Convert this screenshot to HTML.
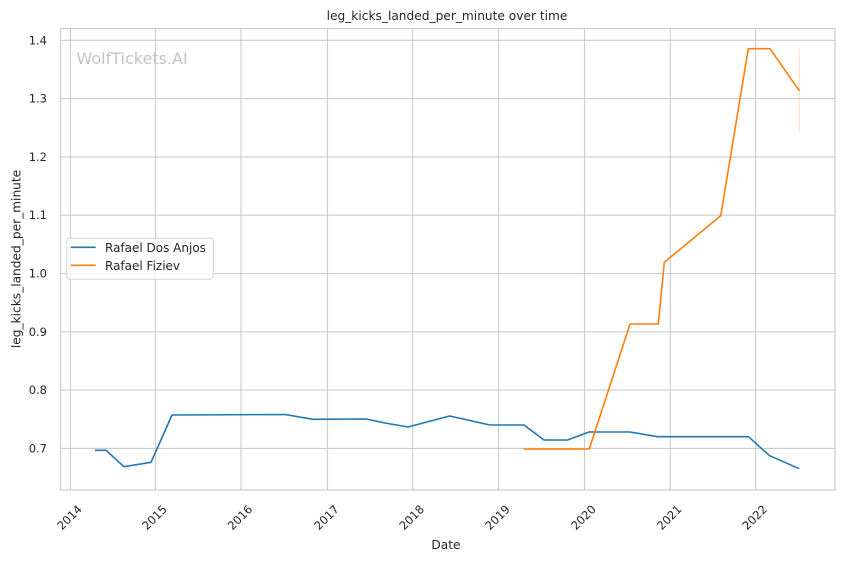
<!DOCTYPE html>
<html>
<head>
<meta charset="utf-8">
<style>
  html, body { margin:0; padding:0; background:#ffffff; }
  body { width:844px; height:561px; overflow:hidden; }
  svg { display:block; font-family:"DejaVu Sans","Liberation Sans",sans-serif; }
</style>
</head>
<body>
<svg width="844" height="561" viewBox="0 0 844 561" xmlns="http://www.w3.org/2000/svg">
  <rect x="0" y="0" width="844" height="561" fill="#ffffff"/>
  <!-- grid -->
  <g stroke="#cccccc" stroke-width="1.1" fill="none">
    <line x1="70.5" y1="28" x2="70.5" y2="490"/>
    <line x1="155.5" y1="28" x2="155.5" y2="490"/>
    <line x1="241" y1="28" x2="241" y2="490"/>
    <line x1="327.5" y1="28" x2="327.5" y2="490"/>
    <line x1="412.7" y1="28" x2="412.7" y2="490"/>
    <line x1="498.5" y1="28" x2="498.5" y2="490"/>
    <line x1="584.5" y1="28" x2="584.5" y2="490"/>
    <line x1="670.3" y1="28" x2="670.3" y2="490"/>
    <line x1="755.7" y1="28" x2="755.7" y2="490"/>
    <line x1="60" y1="40.3" x2="835" y2="40.3"/>
    <line x1="60" y1="98.6" x2="835" y2="98.6"/>
    <line x1="60" y1="156.9" x2="835" y2="156.9"/>
    <line x1="60" y1="215.2" x2="835" y2="215.2"/>
    <line x1="60" y1="273.5" x2="835" y2="273.5"/>
    <line x1="60" y1="331.8" x2="835" y2="331.8"/>
    <line x1="60" y1="390.1" x2="835" y2="390.1"/>
    <line x1="60" y1="448.4" x2="835" y2="448.4"/>
  </g>
  <!-- spines -->
  <rect x="60.5" y="28.5" width="774.5" height="461.5" fill="none" stroke="#cccccc" stroke-width="1.2"/>

  <!-- watermark -->
  <text x="76.5" y="64" font-size="16" fill="#c4c4c4">WolfTickets.AI</text>

  <!-- CI band -->
  <line x1="799.3" y1="49" x2="799.3" y2="133.5" stroke="#ff7f0e" stroke-opacity="0.25" stroke-width="1"/>

  <!-- series -->
  <polyline fill="none" stroke="#1f77b4" stroke-width="1.6" stroke-linejoin="round" stroke-linecap="butt"
    points="95,450.3 106,450.3 124,466.7 151,462.3 172,415 285,414.5 313,419.3 366,419 385,423 408,427 449.5,416 490,425 524,425 544,440 567.5,440 589,432 630,432 657.5,436.7 748.5,436.7 769.5,455.7 799.3,468.7"/>
  <polyline fill="none" stroke="#ff7f0e" stroke-width="1.6" stroke-linejoin="round" stroke-linecap="butt"
    points="523.3,449 589.3,449 630,324 658.3,324 664.3,262.3 720.7,215.7 748.3,48.7 770,48.7 799.3,90.7"/>

  <!-- y tick labels -->
  <g font-size="11.5" fill="#262626" text-anchor="end" dominant-baseline="central">
    <text x="47" y="40.3">1.4</text>
    <text x="47" y="98.6">1.3</text>
    <text x="47" y="156.9">1.2</text>
    <text x="47" y="215.2">1.1</text>
    <text x="47" y="273.5">1.0</text>
    <text x="47" y="331.8">0.9</text>
    <text x="47" y="390.1">0.8</text>
    <text x="47" y="448.4">0.7</text>
  </g>

  <!-- x tick labels -->
  <g font-size="11.5" fill="#262626" text-anchor="middle" dominant-baseline="central">
    <text transform="translate(69.5,517.5) rotate(-45)">2014</text>
    <text transform="translate(154.5,517.5) rotate(-45)">2015</text>
    <text transform="translate(240,517.5) rotate(-45)">2016</text>
    <text transform="translate(326.5,517.5) rotate(-45)">2017</text>
    <text transform="translate(411.7,517.5) rotate(-45)">2018</text>
    <text transform="translate(497.5,517.5) rotate(-45)">2019</text>
    <text transform="translate(583.5,517.5) rotate(-45)">2020</text>
    <text transform="translate(669.3,517.5) rotate(-45)">2021</text>
    <text transform="translate(754.7,517.5) rotate(-45)">2022</text>
  </g>

  <!-- axis labels & title -->
  <text x="446" y="549" font-size="12.2" fill="#262626" text-anchor="middle">Date</text>
  <text transform="translate(20.5,259) rotate(-90)" font-size="12.2" fill="#262626" text-anchor="middle">leg_kicks_landed_per_minute</text>
  <text x="447" y="20" font-size="12.2" fill="#262626" text-anchor="middle">leg_kicks_landed_per_minute over time</text>

  <!-- legend -->
  <rect x="66.7" y="238.3" width="146.6" height="41" rx="3" ry="3" fill="#ffffff" fill-opacity="0.8" stroke="#d6d6d6" stroke-width="1"/>
  <line x1="70.7" y1="247.3" x2="95.7" y2="247.3" stroke="#1f77b4" stroke-width="1.6"/>
  <line x1="70.7" y1="265.3" x2="95.7" y2="265.3" stroke="#ff7f0e" stroke-width="1.6"/>
  <g font-size="12" fill="#262626" dominant-baseline="central">
    <text x="105" y="248">Rafael Dos Anjos</text>
    <text x="105" y="266">Rafael Fiziev</text>
  </g>
</svg>
</body>
</html>
